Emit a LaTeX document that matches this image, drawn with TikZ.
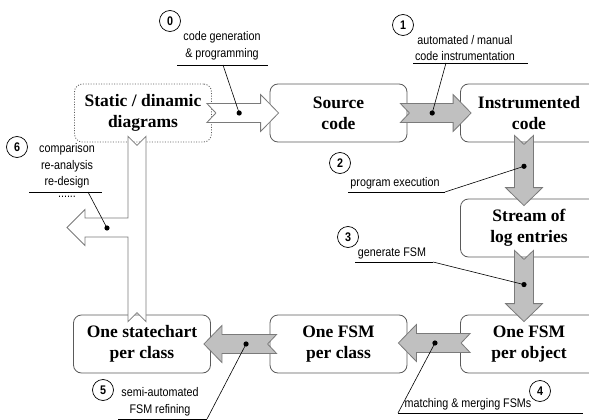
\documentclass[tikz,border=0pt]{standalone}
\usepackage{fontspec}
\setmainfont{Liberation Serif}
\newfontfamily\notefont[FakeStretch=0.86]{Liberation Sans}
\usetikzlibrary{calc}

\definecolor{boxline}{HTML}{5A5A5A}
\definecolor{arrowfill}{HTML}{C0C0C0}
\definecolor{arrowline}{HTML}{7A7A7A}

\tikzset{
  stage/.style={draw=boxline, line width=0.8pt, rounded corners=8pt, fill=white,
    minimum width=137pt, minimum height=58pt, inner sep=0pt, align=center,
    font=\fontsize{17.5}{21}\selectfont\bfseries},
  stepmark/.style={draw, line width=0.7pt, circle, minimum size=21pt, inner sep=0pt,
    font=\notefont\fontsize{12.5}{12.5}\selectfont\bfseries},
  note/.style={align=center, inner sep=0pt, font=\notefont\fontsize{12.5}{16.5}\selectfont},
  flow/.style={draw=arrowline, line width=0.8pt, fill=arrowfill, line join=miter},
  plainflow/.style={flow, fill=white},
  leader/.style={line width=0.6pt},
}

% notched block arrow: style, tail, tip
\newcommand{\notcharrow}[3]{%
  \coordinate (hb) at ($(#3)!18pt!(#2)$);
  \coordinate (nt) at ($(#2)!9pt!(#3)$);
  \draw[#1] ($(#2)!9.5pt!90:(#3)$) -- ($(hb)!9.5pt!90:(#3)$)
    -- ($(hb)!18.5pt!90:(#3)$) -- (#3) -- ($(hb)!18.5pt!-90:(#3)$)
    -- ($(hb)!9.5pt!-90:(#3)$) -- ($(#2)!9.5pt!-90:(#3)$) -- (nt) -- cycle;
}

\begin{document}
\begin{tikzpicture}[x=1pt, y=-1pt]
  \useasboundingbox (0,0) rectangle (589,420);
  \clip (0,0) rectangle (589,420);
  % stages
  \node[stage, dash pattern=on 1pt off 1.6pt] (static) at (143,113) {Static / dinamic\\diagrams};
  \node[stage] (source) at (338.5,113) {Source\\code};
  \node[stage] (instr) at (529,113) {Instrumented\\code};
  \node[stage] (stream) at (529,228) {Stream of\\log entries};
  \node[stage] (fsmobj) at (529,344) {One FSM\\per object};
  \node[stage] (fsmcls) at (338.5,344) {One FSM\\per class};
  \node[stage] (chart) at (142,344) {One statechart\\per class};

  % arrow ends
  \coordinate (t0) at ([xshift=-5pt]static.east);
  \coordinate (p0) at ([xshift=9pt]source.west);
  \coordinate (t1) at ([xshift=-7pt]source.east);
  \coordinate (p1) at ([xshift=11pt]instr.west);
  \coordinate (t2) at ([xshift=-5pt,yshift=7pt]instr.south);
  \coordinate (p2) at ([xshift=-5pt,yshift=-7pt]stream.north);
  \coordinate (t3) at ([xshift=-5pt,yshift=7pt]stream.south);
  \coordinate (p3) at ([xshift=-5pt,yshift=-7pt]fsmobj.north);
  \coordinate (t4) at ([xshift=10pt,yshift=1pt]fsmobj.west);
  \coordinate (p4) at ([xshift=-9pt,yshift=1pt]fsmcls.east);
  \coordinate (t5) at ([xshift=7pt]fsmcls.west);
  \coordinate (p5) at ([xshift=-7pt]chart.east);

  \notcharrow{plainflow}{t0}{p0}
  \notcharrow{flow}{t1}{p1}
  \notcharrow{flow}{t2}{p2}
  \notcharrow{flow}{t3}{p3}
  \notcharrow{flow}{t4}{p4}
  \notcharrow{flow}{t5}{p5}

  % feedback arrow with side branch
  \coordinate (f1) at ([xshift=-6pt,yshift=6pt]static.south);
  \coordinate (f2) at ([xshift=-5pt,yshift=-7pt]chart.north);
  \coordinate (ftip) at (67,227.5);
  \draw[plainflow] ($(f1)+(-9,0)$) -- ($(f1)+(0,9)$) -- ($(f1)+(9,0)$)
    -- ($(f2)+(9,0)$) -- ($(f2)+(0,-9)$) -- ($(f2)+(-9,0)$)
    -- (128,237) -- ($(ftip)+(18,9.5)$) -- ($(ftip)+(18,18)$) -- (ftip)
    -- ($(ftip)+(18,-18)$) -- ($(ftip)+(18,-9.5)$) -- (128,218) -- cycle;

  % pins on the arrows
  \coordinate (d0) at ($(t0)!0.45!(p0)$);
  \coordinate (d1) at ($(t1)!0.45!(p1)$);
  \coordinate (d2) at ($(t2)!0.44!(p2)$);
  \coordinate (d3) at ($(t3)!0.48!(p3)$);
  \coordinate (d4) at ($(t4)!0.49!(p4)$);
  \coordinate (d5) at ($(t5)!0.42!(p5)$);
  \coordinate (d6) at (107,228);

  % step numbers and notes
  \node[stepmark] (s0) at (170,21) {0};
  \node[note] (l0) at (222,46) {code generation\\\& programming};
  \coordinate (u0) at (223,65);
  \draw (177,65) -- (268,65);

  \node[stepmark] (s1) at (403,25) {1};
  \node[note] (l1) at (465,48) {automated / manual\\code instrumentation};
  \coordinate (u1) at (446,63);
  \draw (413,63) -- (528,63);

  \node[stepmark] (s2) at (340,163) {2};
  \node[note] (l2) at (395,183) {program execution};
  \coordinate (u2) at (445,192);
  \draw (348,192) -- (u2);

  \node[stepmark] (s3) at (348,237) {3};
  \node[note] (l3) at (392,253) {generate FSM};
  \coordinate (u3) at (433,262);
  \draw (355,262) -- (u3);

  \node[stepmark] (s4) at (540,391) {4};
  \node[note] (l4) at (468,404) {matching \& merging FSMs};
  \coordinate (u4) at (398,413);
  \draw (u4) -- (583,413);

  \node[stepmark] (s5) at (103,390) {5};
  \node[note] (l5) at (160,402) {semi-automated\\FSM refining};
  \coordinate (u5) at (207,419);
  \draw (118,419) -- (u5);

  \node[stepmark] (s6) at (17,147) {6};
  \node[note] (l6) at (67,166) {comparison\\re-analysis\\re-design};
  \node[note] (l6b) at (67,197) {......};
  \coordinate (u6) at (88,192);
  \draw (29,192) -- (102,192);

  % leaders
  \foreach \i in {0,...,6}
    \draw[leader] (u\i) -- (d\i);
  \foreach \i in {0,...,6}
    \fill (d\i) circle (2.6pt);
\end{tikzpicture}
\end{document}
